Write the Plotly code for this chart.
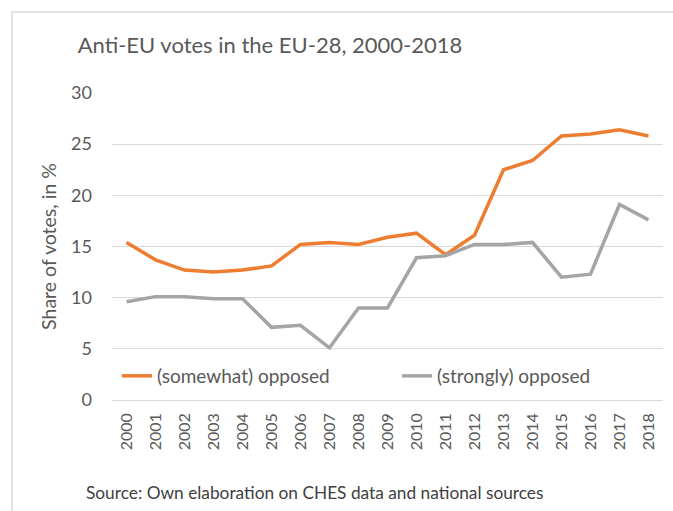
import plotly.graph_objects as go

years = [str(y) for y in range(2000, 2019)]
somewhat_opposed = [15.4, 13.7, 12.7, 12.5, 12.7, 13.1, 15.2, 15.4, 15.2, 15.9, 16.3, 14.2, 16.1, 22.5, 23.4, 25.8, 26.0, 26.4, 25.8]
strongly_opposed = [9.6, 10.1, 10.1, 9.9, 9.9, 7.1, 7.3, 5.1, 9.0, 9.0, 13.9, 14.1, 15.2, 15.2, 15.4, 12.0, 12.3, 19.1, 17.6]
y_ticks = [0, 5, 10, 15, 20, 25, 30]

TEXT = "#595959"
GRID = "#D9D9D9"
FONT = "Lato"

fig = go.Figure()
fig.add_trace(go.Scatter(
    x=years, y=somewhat_opposed, mode="lines", name="(somewhat) opposed",
    line=dict(color="#ED7D31", width=3.5), legend="legend", showlegend=True,
))
fig.add_trace(go.Scatter(
    x=years, y=strongly_opposed, mode="lines", name="(strongly) opposed",
    line=dict(color="#A5A5A5", width=3.5), legend="legend2", showlegend=True,
))

W, H = 673, 511
L, R, T, B = 112, 10, 93, 111
pw, ph = W - L - R, H - T - B


def px_x(p):
    return (p - L) / pw


def px_y(p):
    return (H - B - p) / ph


def legend_at(x_px):
    return dict(
        orientation="h", x=px_x(x_px), xanchor="left",
        y=px_y(376), yanchor="middle",
        font=dict(family=FONT, size=19, color=TEXT),
        bgcolor="rgba(0,0,0,0)", itemclick=False, visible=True,
    )


fig.update_layout(
    width=W, height=H,
    showlegend=True,
    margin=dict(l=L, r=R, t=T, b=B, pad=0),
    paper_bgcolor="white", plot_bgcolor="white",
    font=dict(family=FONT, color=TEXT),
    title=dict(
        text="Anti-EU votes in the EU-28, 2000-2018",
        font=dict(family=FONT, size=22, color=TEXT),
        xref="paper", x=px_x(270), xanchor="center",
        yref="container", y=1 - 45 / H, yanchor="middle",
    ),
    xaxis=dict(
        type="category", range=[-0.5, 18.5],
        showgrid=False, showline=False, zeroline=False,
        tickangle=-90, tickfont=dict(family=FONT, size=16, color=TEXT),
        ticks="", ticklabelstandoff=9,
    ),
    yaxis=dict(
        range=[0, 30], tickvals=y_ticks,
        showgrid=True, gridcolor=GRID, gridwidth=1,
        zeroline=True, zerolinecolor=GRID, zerolinewidth=1,
        showline=False, ticks="", ticklabelstandoff=19,
        tickfont=dict(family=FONT, size=18, color=TEXT),
        title=dict(text="Share of votes, in %", standoff=9,
                   font=dict(family=FONT, size=19.5, color=TEXT)),
    ),
    legend=legend_at(117),
    legend2=legend_at(397),
    shapes=[dict(
        type="rect", xref="paper", yref="paper",
        x0=px_x(12), x1=px_x(720), y0=px_y(560), y1=px_y(12),
        line=dict(color=GRID, width=1.5), fillcolor="rgba(0,0,0,0)",
        layer="below",
    )],
    annotations=[dict(
        text="Source: Own elaboration on CHES data and national sources",
        xref="paper", yref="paper", x=px_x(84), y=px_y(492),
        xanchor="left", yanchor="middle", showarrow=False,
        font=dict(family=FONT, size=17.3, color="#404040"),
    )],
)

fig.write_html("out.html")
